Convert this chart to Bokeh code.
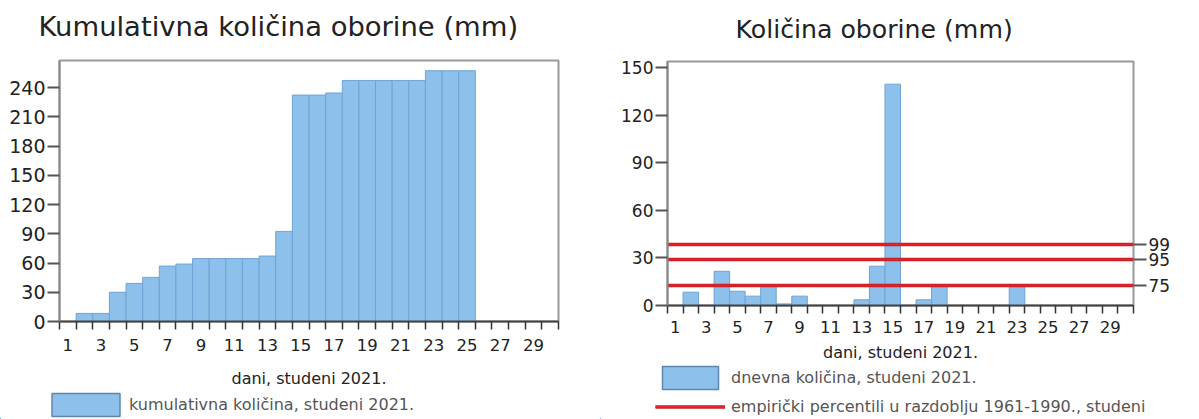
from bokeh.plotting import figure
from bokeh.models import (Range1d, FixedTicker, LinearAxis, Legend, LegendItem,
                          ColumnDataSource, Label)
from bokeh.layouts import row, column
from bokeh.embed import file_html
from bokeh.resources import INLINE

# ---------------- data ----------------
days = list(range(1, 31))
cum_days = list(range(1, 26))
cumulative = [0, 8.3, 8.3, 30.0, 39.1, 45.3, 56.9, 59.0, 64.6, 64.6, 64.6, 64.6,
              67.2, 92.5, 232.5, 232.5, 234.6, 247.5, 247.5, 247.5, 247.5, 247.5,
              257.5, 257.5, 257.5]
daily_days = list(range(1, 24))
daily = [0, 8.4, 0, 21.6, 9.0, 5.9, 12.6, 1.0, 5.9, 0, 0, 0, 3.6, 24.8, 139.7,
         0, 3.6, 12.6, 0, 0, 0, 0, 12.0]
percentile_vals = [12.6, 28.8, 38.2]
percentile_names = ["75", "95", "99"]
x_tick_labels = list(range(1, 30, 2))
left_y_ticks = list(range(0, 241, 30))
right_y_ticks = list(range(0, 151, 30))

title_left = "Kumulativna količina oborine (mm)"
title_right = "Količina oborine (mm)"
x_label = "dani, studeni 2021."
leg_cum = "kumulativna količina, studeni 2021."
leg_daily = "dnevna količina, studeni 2021."
leg_perc = "empirički percentili u razdoblju 1961-1990., studeni"

FONT = "DejaVu Sans"
BAR_FILL = "#8dc0ea"
BAR_LINE = "#6fa3d6"
RED_DARK = "#b0242a"
RED = "#ee1c25"
TITLE_H = 45


def style(p, ylab_size):
    p.frame_align = False
    p.background_fill_color = "white"
    p.border_fill_color = "white"
    p.outline_line_color = "#9a9a9a"
    p.outline_line_width = 2
    p.xgrid.visible = False
    p.ygrid.visible = False
    xa = p.xaxis[0]
    xa.ticker = FixedTicker(ticks=x_tick_labels,
                            minor_ticks=[d - 0.5 for d in days] + [30.5])
    xa.major_tick_line_color = None
    xa.major_tick_out = 8
    xa.major_tick_in = 0
    xa.minor_tick_out = 8
    xa.minor_tick_in = 0
    xa.minor_tick_line_color = "#333333"
    xa.minor_tick_line_width = 1.5
    xa.axis_line_color = "#444444"
    xa.axis_line_width = 2
    xa.major_label_text_font = FONT
    xa.major_label_text_font_size = "16.5px"
    xa.major_label_text_color = "#222222"
    xa.axis_label = x_label
    xa.axis_label_text_font = FONT
    xa.axis_label_text_font_size = "16px"
    xa.axis_label_text_font_style = "normal"
    xa.axis_label_text_color = "#222222"
    ya = p.yaxis[0]
    ya.axis_line_color = "#8a8a8a"
    ya.axis_line_width = 2
    ya.major_tick_out = 12
    ya.major_tick_in = 0
    ya.major_tick_line_color = "#555555"
    ya.major_tick_line_width = 2
    ya.minor_tick_line_color = None
    ya.major_label_text_font = FONT
    ya.major_label_text_font_size = ylab_size
    ya.major_label_text_color = "#222222"
    ya.major_label_standoff = 2


def blank_fig(width, height, xr, yr):
    f = figure(width=width, height=height, x_range=xr, y_range=yr,
               output_backend="svg", toolbar_location=None, min_border=0,
               x_axis_location=None, y_axis_location=None)
    f.frame_align = False
    f.outline_line_color = None
    f.xgrid.visible = False
    f.ygrid.visible = False
    f.background_fill_color = "white"
    f.border_fill_color = "white"
    return f


def title_fig(width, text, size, x, middle_from_top):
    f = blank_fig(width, TITLE_H, Range1d(0, width), Range1d(0, TITLE_H))
    f.add_layout(Label(x=x, y=TITLE_H - middle_from_top, text=text,
                       text_font=FONT, text_font_size=size, text_color="#222222",
                       text_align="left", text_baseline="middle"))
    return f


def legend_fig(width, height):
    # ranges far away from the data: the renderers here only feed the legend
    return blank_fig(width, height, Range1d(1000, 1001), Range1d(1000, 1001))


def make_legend(items, loc, spacing, glyph_width, glyph_height, standoff):
    return Legend(items=items, location=loc, padding=0, margin=0, spacing=spacing,
                  border_line_color=None, background_fill_alpha=0,
                  glyph_width=glyph_width, glyph_height=glyph_height,
                  label_standoff=standoff, label_height=18,
                  label_text_font=FONT, label_text_font_size="16px",
                  label_text_color="#555555")


# ---------------- left: cumulative ----------------
tl = title_fig(600, title_left, "27.4px", 38, 26)

pl = figure(width=600, height=390 - TITLE_H, x_range=Range1d(0.5, 30.5),
            y_range=Range1d(0, 268), output_backend="svg", toolbar_location=None,
            min_border_left=59, min_border_right=42, min_border_top=60 - TITLE_H,
            min_border_bottom=67)
style(pl, "19px")
pl.yaxis[0].ticker = FixedTicker(ticks=left_y_ticks)
pl.xaxis[0].major_label_standoff = 9
pl.xaxis[0].axis_label_standoff = 15

src_c = ColumnDataSource(dict(x=[d for d, v in zip(cum_days, cumulative) if v > 0],
                              top=[v for v in cumulative if v > 0]))
pl.vbar(x="x", top="top", width=1, source=src_c, fill_color=BAR_FILL,
        line_color=BAR_LINE, line_width=1)

ll = legend_fig(600, 29)
kc = ll.vbar(x="x", top="top", width=1, source=src_c, fill_color=BAR_FILL,
             line_color="#5f86b0", line_width=1.5)
ll.add_layout(make_legend([LegendItem(label=leg_cum, renderers=[kc])],
                          (43, 0), 0, 85, 29, 1))

# ---------------- right: daily ----------------
tr = title_fig(599, title_right, "25.2px", 135, 28.5)

pr = figure(width=599, height=365 - TITLE_H, x_range=Range1d(0.5, 30.5),
            y_range=Range1d(0, 154), output_backend="svg", toolbar_location=None,
            min_border_left=67, min_border_right=66, min_border_top=61 - TITLE_H,
            min_border_bottom=60)
style(pr, "17px")
pr.yaxis[0].ticker = FixedTicker(ticks=right_y_ticks)
pr.xaxis[0].major_label_standoff = 7
pr.xaxis[0].axis_label_standoff = 7

src_d = ColumnDataSource(dict(x=[d for d, v in zip(daily_days, daily) if v > 0],
                              top=[v for v in daily if v > 0]))
pr.vbar(x="x", top="top", width=1, source=src_d, fill_color=BAR_FILL,
        line_color=BAR_LINE, line_width=1)
src_p = ColumnDataSource(dict(y=percentile_vals))
pr.hspan(y="y", source=src_p, line_color=RED_DARK, line_width=3.5)
pr.hspan(y="y", source=src_p, line_color=RED, line_width=2)

ra = LinearAxis(ticker=FixedTicker(ticks=percentile_vals),
                major_label_overrides={v: n for v, n in zip(percentile_vals, percentile_names)})
ra.axis_line_color = None
ra.major_tick_out = 13
ra.major_tick_in = 0
ra.major_tick_line_color = "#555555"
ra.major_tick_line_width = 2
ra.minor_tick_line_color = None
ra.major_label_text_font = FONT
ra.major_label_text_font_size = "17px"
ra.major_label_text_color = "#222222"
ra.major_label_standoff = 2
pr.add_layout(ra, "right")

lr = legend_fig(599, 54)
dc = lr.vbar(x="x", top="top", width=1, source=src_d, fill_color=BAR_FILL,
             line_color="#5f86b0", line_width=1.5)
pc1 = lr.line(x="y", y="y", source=src_p, line_color=RED_DARK, line_width=3.5)
pc2 = lr.line(x="y", y="y", source=src_p, line_color=RED, line_width=2)
lr.add_layout(make_legend([LegendItem(label=leg_daily, renderers=[dc]),
                           LegendItem(label=leg_perc, renderers=[pc1, pc2])],
                          (55, -2), -2, 70, 29, 6))

layout = row(column(tl, pl, ll), column(tr, pr, lr))
open("out.html", "w").write(file_html(layout, INLINE))
